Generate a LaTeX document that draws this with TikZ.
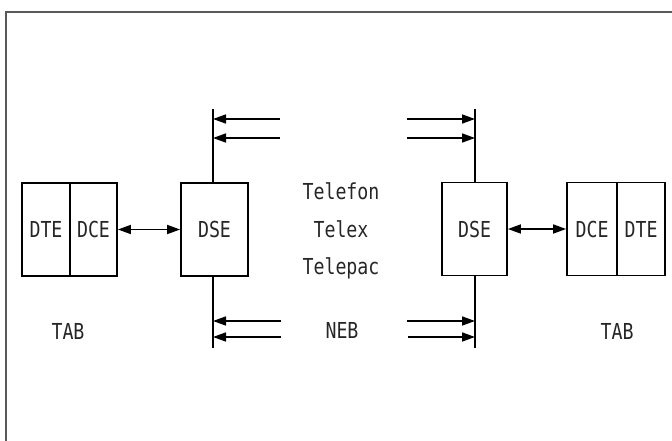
\documentclass[tikz,border=0pt]{standalone}
\usepackage{fontspec}
\newfontfamily\dinfont[FakeStretch=0.83]{DejaVu Sans Mono}
\usetikzlibrary{arrows.meta}
\begin{document}
\begin{tikzpicture}[x=1pt,y=-1pt,
  every node/.style={font=\dinfont\fontsize{22}{26}\selectfont, inner sep=0pt, text=black!85},
  box/.style={draw, line width=1.8pt, minimum height=93pt},
  ln/.style={line width=1.7pt},
  tip/.style={ln, -{Triangle[length=13pt,width=9pt]}},
  dtip/.style={ln, {Triangle[length=13pt,width=9pt]}-{Triangle[length=13pt,width=9pt]}}]
\useasboundingbox (0,0) rectangle (672,441);
\draw[line width=1.2pt, gray!70!black] (672,12) -- (6,12) -- (6,441);
% terminals and exchanges
\node[box, minimum width=48pt] (dteL) at (46,229.5) {DTE};
\node[box, minimum width=47pt] (dceL) at (93.5,229.5) {DCE};
\node[box, minimum width=67pt] (dseL) at (214.5,229.5) {DSE};
\node[box, minimum width=65pt] (dseR) at (474.5,229) {DSE};
\node[box, minimum width=50pt] (dceR) at (592,229) {DCE};
\node[box, minimum width=48pt] (dteR) at (641,229) {DTE};
\draw[dtip] (dceL.east) -- (dseL.west);
\draw[dtip] (dseR.east) -- (dceR.west);
% vertical trunks
\coordinate (tL) at (213,109);
\coordinate (bL) at (213,348);
\coordinate (tR) at (475,109);
\coordinate (bR) at (475,348);
\draw[ln] (tL) -- (tL |- dseL.north);
\draw[ln] (bL) -- (bL |- dseL.south);
\draw[ln] (tR) -- (tR |- dseR.north);
\draw[ln] (bR) -- (bR |- dseR.south);
% incoming lines left
\coordinate (a1) at (280,119);
\coordinate (a2) at (280,138);
\coordinate (a3) at (281,321);
\coordinate (a4) at (281,337);
\draw[tip] (a1) -- (a1 -| tL);
\draw[tip] (a2) -- (a2 -| tL);
\draw[tip] (a3) -- (a3 -| tL);
\draw[tip] (a4) -- (a4 -| tL);
% right
\coordinate (b1) at (407,119);
\coordinate (b2) at (407,138);
\coordinate (b3) at (407,321);
\coordinate (b4) at (408,337);
\draw[tip] (b1) -- (b1 -| tR);
\draw[tip] (b2) -- (b2 -| tR);
\draw[tip] (b3) -- (b3 -| tR);
\draw[tip] (b4) -- (b4 -| tR);
% labels
\node (tel) at (341,191) {Telefon};
\node (tlx) at (341,229) {Telex};
\node (tpc) at (341,268) {Telepac};
\node (neb) at (342,330) {NEB};
\node (tabL) at (68,331) {TAB};
\node (tabR) at (617,331) {TAB};
\end{tikzpicture}
\end{document}
